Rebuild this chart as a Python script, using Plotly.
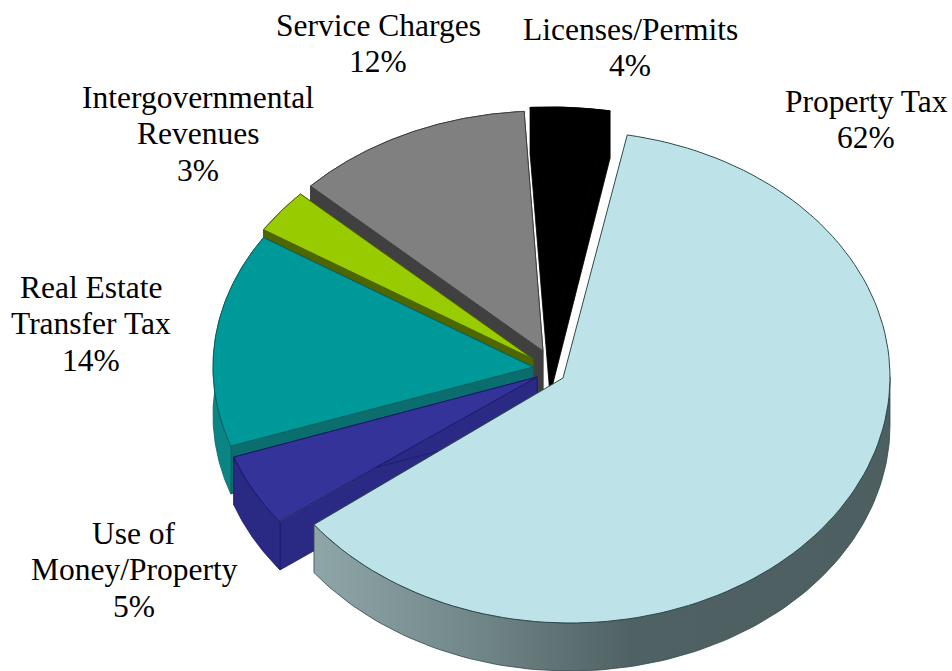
import numpy as np
import plotly.graph_objects as go

categories = ["Property Tax", "Use of Money/Property", "Real Estate Transfer Tax",
              "Intergovernmental Revenues", "Service Charges", "Licenses/Permits"]
shares = [61.9, 4.9, 14.4, 3.0, 12.0, 3.8]
label_lines = [["Property Tax", "62%"], ["Use of", "Money/Property", "5%"], ["Real Estate", "Transfer Tax", "14%"],
               ["Intergovernmental", "Revenues", "3%"], ["Service Charges", "12%"], ["Licenses/Permits", "4%"]]
top_colors = ["#bde3e8", "#333399", "#009999", "#99cc00", "#808080", "#000000"]
wall_colors = [None, "#2a2a85", "#0a8585", "#4d6600", "#404040", "#000000"]
side_colors = [None, "#2a2a85", "#0a6e6e", "#4d6600", "#404040", "#000000"]
line_colors = ["#2c4a4c", "#1a1a66", "#0a5f5f", "#4d6600", "#404040", "#000000"]

# layout of the exploded perspective pie (pixels)
centers = [(570, 377), (536, 378), (533, 367), (533, 359), (543, 351), (550, 347)]
apexes = [(563, 378), (537, 377), (533, 367), (533, 359), (543, 351), (550, 347)]
radii = [(320, 246), (320, 240), (320, 240), (320, 240), (320, 240), (335, 240)]
label_first_line = [(866, 101), (134, 533), (91, 287), (198, 97), (378, 25), (630, 29)]
LINE_GAP = 36.5
DEPTH = 48
START = 10.3
paint_order = [5, 4, 3, 2, 1, 0]

edges = START + np.concatenate([[0], np.cumsum(shares)]) * 3.6


def rim(i, a, b, n=120):
    t = np.radians(np.linspace(a, b, n))
    cx, cy = centers[i]
    rx, ry = radii[i]
    return cx + rx * np.sin(t), cy - ry * np.cos(t)


def poly(fig, x, y, fill, line, width=1.0, **kw):
    fig.add_trace(go.Scatter(x=list(x) + [x[0]], y=list(y) + [y[0]], mode="lines", fill="toself",
                             fillcolor=fill, line=dict(color=line, width=width),
                             hoverinfo="skip", showlegend=False, **kw))


fig = go.Figure()
for i in paint_order:
    a, b = edges[i], edges[i + 1]
    ax, ay = apexes[i]
    xr, yr = rim(i, a, b)
    if i == 0:
        # only the front rim of the large slice shows a wall, shaded left to right
        wx, wy = rim(i, 90, b)
        poly(fig, np.r_[wx, wx[::-1]], np.r_[wy, wy[::-1] + DEPTH], "#4f6163", "#2c4a4c", 0.8,
             fillgradient=dict(type="horizontal",
                               colorscale=[[0, "#8fa6a8"], [0.3, "#6f8486"], [0.55, "#4f6163"], [1, "#4d5f60"]]))
    else:
        # radial walls
        for k in (0, -1):
            poly(fig, [ax, xr[k], xr[k], ax], [ay, yr[k], yr[k] + DEPTH, ay + DEPTH],
                 side_colors[i], line_colors[i], 0.8)
        # outer rim wall
        poly(fig, np.r_[xr, xr[::-1]], np.r_[yr, yr[::-1] + DEPTH], wall_colors[i], line_colors[i], 0.8)
    poly(fig, np.r_[ax, xr], np.r_[ay, yr], top_colors[i], line_colors[i], 1.0)

for pos, lines in zip(label_first_line, label_lines):
    for j, txt in enumerate(lines):
        fig.add_annotation(x=pos[0], y=pos[1] + j * LINE_GAP, text=txt, showarrow=False,
                           xanchor="center", yanchor="middle",
                           font=dict(family="Liberation Serif", size=31.5, color="black"))

fig.update_layout(width=952, height=671, margin=dict(l=0, r=0, t=0, b=0),
                  paper_bgcolor="white", plot_bgcolor="white", showlegend=False,
                  xaxis=dict(range=[0, 952], visible=False, fixedrange=True),
                  yaxis=dict(range=[671, 0], visible=False, fixedrange=True))
fig.write_html("out.html", config={"displayModeBar": False},
               post_script="document.body.style.margin='0';document.documentElement.style.overflow='hidden';")
